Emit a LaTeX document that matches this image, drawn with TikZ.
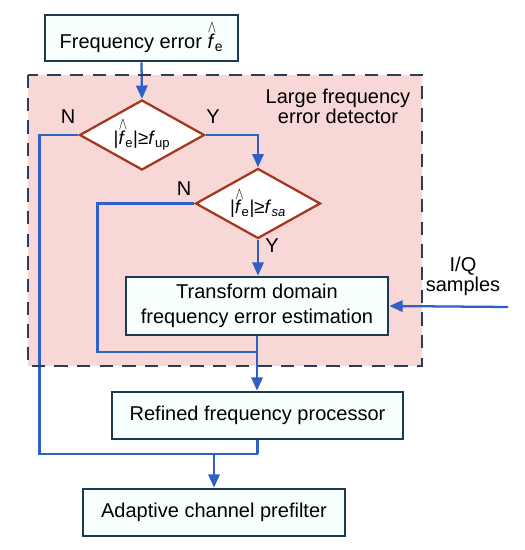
\documentclass[tikz,border=0pt]{standalone}
\usepackage{fontspec}
\usepackage{graphicx}
\setmainfont{Liberation Sans}
\usetikzlibrary{shapes.geometric,arrows.meta}
\definecolor{linec}{RGB}{46,96,200}
\definecolor{boxc}{RGB}{28,58,82}
\definecolor{boxfill}{RGB}{248,255,255}
\definecolor{diac}{RGB}{165,55,30}
\definecolor{regfill}{RGB}{248,216,214}
\definecolor{dashc}{RGB}{45,60,90}
\newcommand\fhat{\leavevmode\rlap{\hspace{0.02em}\raisebox{0.78em}{\scalebox{0.65}[0.9]{$\wedge$}}}\textit{f}}
\begin{document}
\begin{tikzpicture}[x=0.75pt,y=-0.75pt,
  font=\fontsize{15}{18}\selectfont,
  box/.style={draw=boxc, line width=2pt, fill=boxfill, inner sep=0pt, align=center},
  dia/.style={diamond, draw=diac, line width=1.7pt, fill=white, inner sep=0pt,
    minimum width=93.75pt, minimum height=52.5pt, aspect=1.79},
  lbl/.style={inner sep=0pt},
  wire/.style={draw=linec, line width=1.7pt},
  arr/.style={wire, -{Triangle[length=10pt,width=8.5pt]}}]
\useasboundingbox (0,0) rectangle (525,550);
% region
\fill[regfill] (28,75) rectangle (422,366);
% nodes
\node[box, minimum width=144.75pt, minimum height=34.5pt] (fe) at (141.5,38) {Frequency error \fhat\textsubscript{e}};
\node[dia] (d1) at (142,135) {\fontsize{14}{16}\selectfont|\fhat\textsubscript{e}|≥\textit{f}\textsubscript{up}};
\node[dia] (d2) at (258,203.5) {\fontsize{14}{16}\selectfont|\fhat\textsubscript{e}|≥\textit{f}\textsubscript{\textit{sa}}};
\node[box, minimum width=196.5pt, minimum height=43.5pt, font=\fontsize{15}{18.75}\selectfont] (tr) at (257,306) {Transform domain\\frequency error estimation};
\node[box, minimum width=218.25pt, minimum height=35.25pt] (rf) at (257.5,415.5) {Refined frequency processor};
\node[box, minimum width=196.5pt, minimum height=35.25pt] (ad) at (214,512.5) {Adaptive channel prefilter};
\node[lbl, align=center, font=\fontsize{15}{15}\selectfont] (lfd) at (338,106) {Large frequency\\error detector};
\node[lbl, align=center, font=\fontsize{15}{15}\selectfont] (iqt) at (463,276) {I/Q\\samples};
\node[lbl] (n1) at (68,117) {N};
\node[lbl] (y1) at (213,117) {Y};
\node[lbl] (n2) at (184,189) {N};
\node[lbl] (y2) at (272,246) {Y};
% coordinates
\coordinate (j) at (258,454);
\coordinate (j2) at (214,454);
\coordinate (k) at (258,352);
\coordinate (iq) at (508,307);
% connectors
\draw[arr] (fe.south) -- (d1.north);
\draw[arr] (d1.east) -| (d2.north);
\draw[arr] (d2.south) -- (d2.south |- tr.north);
\draw[wire] (d1.west) -- ++(-39,0) |- (j);
\draw[wire] (d2.west) -- ++(-97,0) |- (k);
\draw[arr] (tr.south) -- (tr.south |- rf.north);
\draw[wire] (rf.south) -- (rf.south |- j);
\draw[arr] (j2) -- (ad.north);
\draw[arr] (iq) -- (tr.east);
% dashed border
\draw[dashc, line width=2.2pt, dash pattern=on 10pt off 7pt] (28,75) rectangle (422,366);
\end{tikzpicture}
\end{document}
